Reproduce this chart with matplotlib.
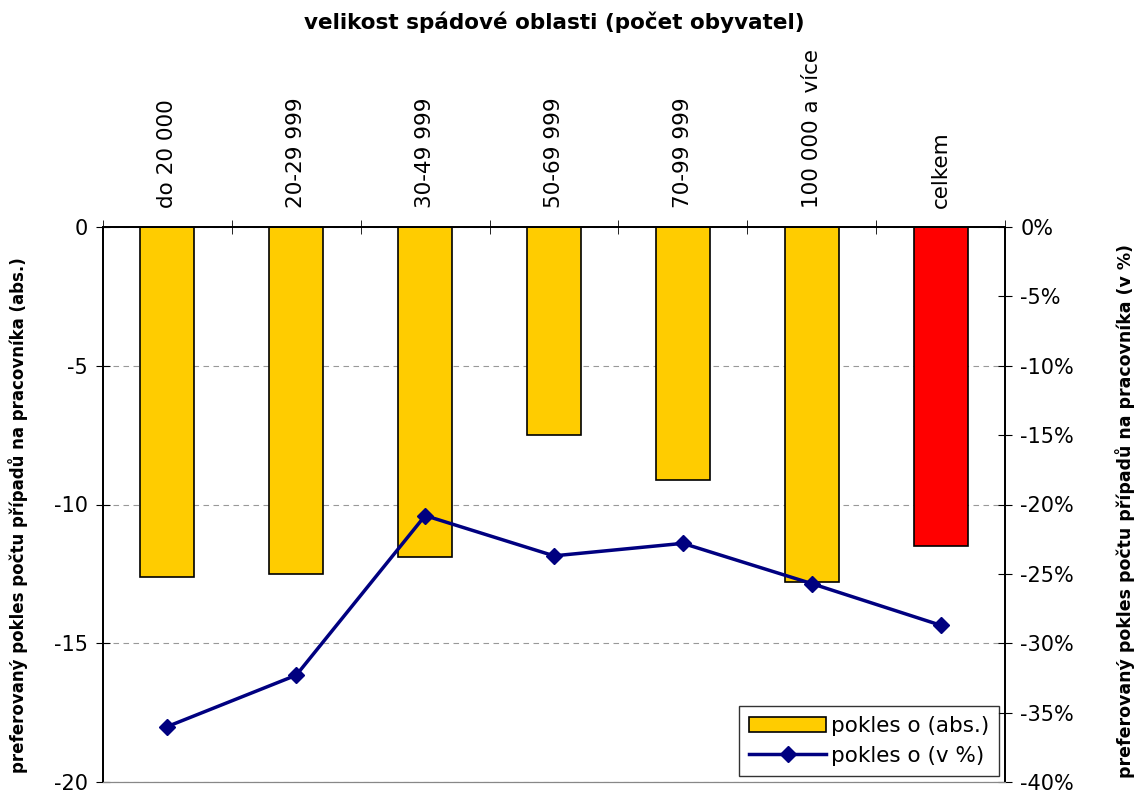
import matplotlib
matplotlib.use("Agg")
import matplotlib.pyplot as plt
from matplotlib.ticker import FuncFormatter
import numpy as np

categories = ["do 20 000", "20-29 999", "30-49 999", "50-69 999",
              "70-99 999", "100 000 a více", "celkem"]
pokles_abs = [-12.6, -12.5, -11.9, -7.5, -9.1, -12.8, -11.5]
pokles_pct = [-36.0, -32.3, -20.8, -23.7, -22.8, -25.7, -28.7]
bar_colors = ["#FFCC00"] * 6 + ["#FF0000"]

plt.rcParams["font.family"] = ["DejaVu Sans"]
plt.rcParams["axes.unicode_minus"] = False

fig = plt.figure(figsize=(11.35, 7.92), dpi=100)
ax = fig.add_axes([103 / 1135, 10 / 792, 902 / 1135, 555 / 792])
ax2 = ax.twinx()

x = np.arange(len(categories))
ax.bar(x, pokles_abs, width=0.42, color=bar_colors, edgecolor="black",
       linewidth=1.2, label="pokles o (abs.)", zorder=2)
ax.set_xlim(-0.5, len(categories) - 0.5)
ax.set_ylim(-20, 0)
ax.set_yticks([0, -5, -10, -15, -20])
ax.yaxis.grid(True, color="#999999", linestyle=(0, (5, 4)), linewidth=0.8)
ax.set_axisbelow(True)

# category labels on top, vertical
ax.xaxis.tick_top()
ax.set_xticks(x)
ax.set_xticklabels(categories, rotation=90, fontsize=15.5)
ax.tick_params(axis="x", which="major", length=0, pad=14)
ax.set_xticks(np.arange(-0.5, len(categories)), minor=True)
ax.tick_params(axis="x", which="minor", direction="inout", length=10, top=True, bottom=False)
ax.tick_params(axis="y", direction="inout", length=10, labelsize=15, pad=6)
ax.set_ylabel("preferovaný pokles počtu případů na pracovníka (abs.)",
              fontsize=12, fontweight="bold")
ax.yaxis.set_label_coords(-0.083, 0.481)

ax2.plot(x, pokles_pct, color="#000080", linewidth=2.5, marker="D",
         markersize=8, label="pokles o (v %)", zorder=3)
ax2.set_ylim(-40, 0)
ax2.set_yticks(np.arange(0, -41, -5))
ax2.yaxis.set_major_formatter(FuncFormatter(lambda v, p: f"{v:.0f}%"))
ax2.tick_params(axis="y", direction="inout", length=10, labelsize=15, pad=6)
ax2.set_ylabel("preferovaný pokles počtu případů na pracovníka (v %)",
               fontsize=12.5, fontweight="bold")
ax2.yaxis.set_label_coords(1.122, 0.488)

for a in (ax, ax2):
    a.spines["left"].set_linewidth(1.3)
    a.spines["right"].set_linewidth(1.3)
    a.spines["top"].set_linewidth(1.3)
    a.spines["bottom"].set_color("#888888")

fig.text(0.5 * (103 + 1005) / 1135, 1 - 22 / 792,
         "velikost spádové oblasti (počet obyvatel)", fontsize=15.5,
         fontweight="bold", ha="center", va="center")

h1, l1 = ax.get_legend_handles_labels()
h2, l2 = ax2.get_legend_handles_labels()
leg = ax2.legend(h1 + h2, l1 + l2, loc="lower right", fontsize=15.5,
                 frameon=True, fancybox=False, edgecolor="black",
                 borderaxespad=0.3, handlelength=3.6, handletextpad=0.2,
                 labelspacing=0.45, borderpad=0.45)
leg.get_frame().set_linewidth(1.0)

fig.savefig("out.png", dpi=100)
